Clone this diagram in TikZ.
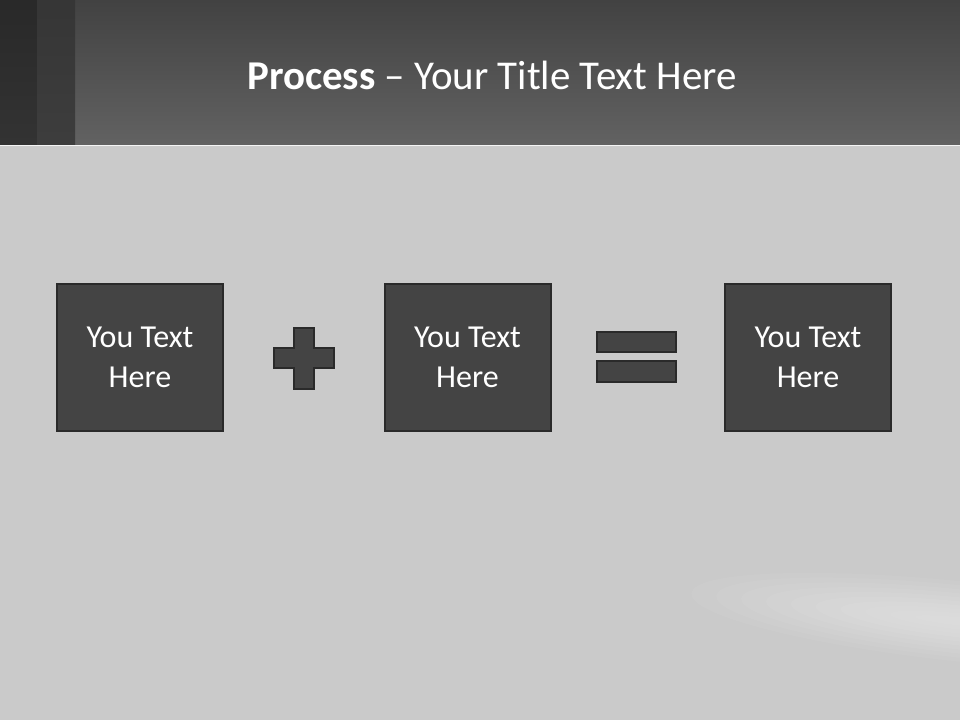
\documentclass[tikz,border=0pt]{standalone}
\usepackage{fontspec}
\setmainfont{Carlito}
\definecolor{slidebg}{HTML}{CACACA}
\definecolor{headtop}{HTML}{424242}
\definecolor{headbot}{HTML}{626262}
\definecolor{boxfill}{HTML}{444444}
\definecolor{boxline}{HTML}{2A2A2A}

\begin{document}
\begin{tikzpicture}[
    x=0.75pt, y=-0.75pt,
    tile/.style={draw=boxline, line width=1.5pt, fill=boxfill,
                 minimum width=124.5pt, minimum height=110.25pt,
                 text=white, align=center,
                 font=\fontsize{24}{30}\selectfont},
    bar/.style={draw=boxline, line width=1.5pt, fill=boxfill,
                minimum width=59pt, minimum height=15.5pt, inner sep=0pt},
    sign/.style={draw=boxline, line width=1.5pt, fill=boxfill, line join=miter}
  ]
    \useasboundingbox (0,0) rectangle (960,720);
    \fill[slidebg] (0,0) rectangle (960,720);
    \foreach \k in {1,...,10}
      \fill[white, opacity=0.05, rotate around={-6:(965,622)}]
        (965,622) ellipse [x radius=300-25*\k, y radius=44-4*\k];

    \shade[top color=headtop, bottom color=headbot] (0,0) rectangle (960,145);
    \shade[top color=black!84, bottom color=black!80] (0,0) rectangle (37,145);
    \shade[top color=black!79, bottom color=black!76] (37,0) rectangle (75,145);
    \draw[white!80!slidebg, line width=0.75pt] (0,145.5) -- (960,145.5);

    \node[text=white, font=\fontsize{30.7}{37}\selectfont] (title) at (492,75)
      {\textbf{Process} – Your Title Text Here};

    \node[tile] (in1) at (140,357.5) {You Text\\Here};
    \node[tile] (in2) at (467.5,357.5) {You Text\\Here};
    \node[tile] (res) at (808,357.5) {You Text\\Here};

    \draw[sign] (294,328) -- (314,328) -- (314,348) -- (334,348) -- (334,368)
      -- (314,368) -- (314,389) -- (294,389) -- (294,368) -- (274,368)
      -- (274,348) -- (294,348) -- cycle;

    \node[bar] (eqtop) at (636.5,342) {};
    \node[bar] (eqbot) at (636.5,371.5) {};
  \end{tikzpicture}
\end{document}
